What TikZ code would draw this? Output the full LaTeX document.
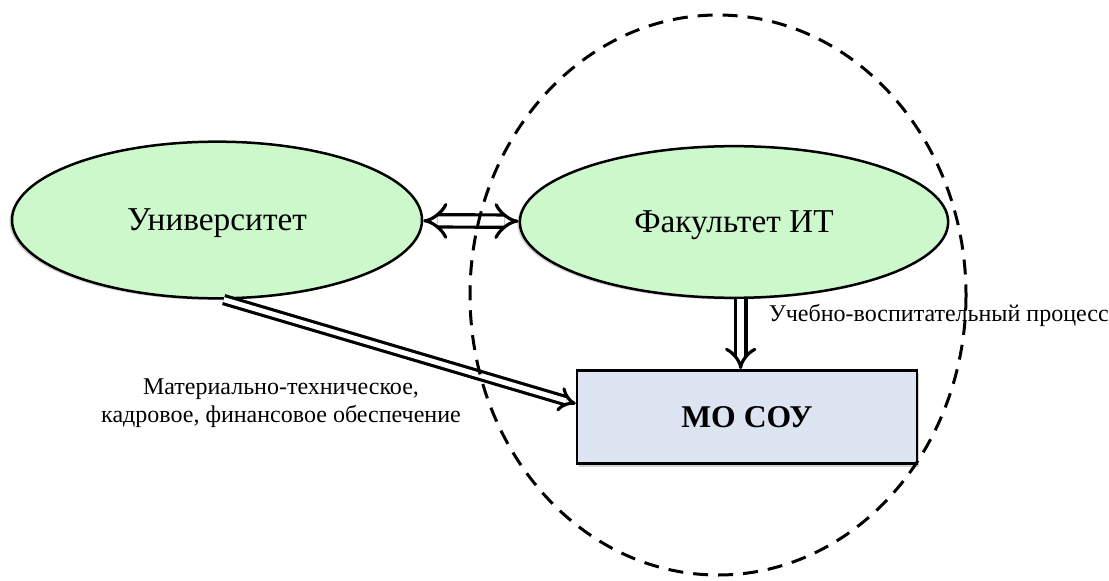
\documentclass[tikz,border=0pt]{standalone}
\usepackage{fontspec}
\setmainfont{Liberation Serif}
\usetikzlibrary{shapes.geometric,arrows.meta,shadows}
\definecolor{ovalgreen}{RGB}{204,248,204}
\definecolor{boxblue}{RGB}{219,228,240}

\begin{document}
\begin{tikzpicture}[x=0.6pt,y=-0.6pt,
  oval/.style={draw, ellipse, line width=1.5pt, fill=ovalgreen, font=\fontsize{20}{23}\selectfont,
    drop shadow={shadow xshift=-1.5pt, shadow yshift=-1pt, opacity=0.35}},
  dbl/.style={double, double distance=#1, line width=1.9pt},
  lbl/.style={font=\fontsize{14.4}{16.5}\selectfont}]
\useasboundingbox (0,0) rectangle (1109,581);

\node[oval, minimum width=246pt, minimum height=94pt, text depth=-2pt] (uni) at (217,220) {Университет};
\node[oval, minimum width=257pt, minimum height=91pt, text depth=-2pt] (fac) at (734,222) {Факультет ИТ};
\node[draw, line width=1.5pt, fill=boxblue, minimum width=204pt, minimum height=56pt,
  drop shadow={shadow xshift=1pt, shadow yshift=-2pt, opacity=0.35},
  font=\bfseries\fontsize{19}{22}\selectfont] (mo) at (747,417) {МО СОУ};

\draw[dbl=5.5pt, {Implies[scale=1.1]}-{Implies[scale=1.1]}] (uni) -- (fac);
\draw[dbl=4.5pt, -{Implies[scale=1.6]}] ([xshift=4pt]fac.south) -- ([xshift=4pt]fac.south |- mo.north);
\draw[dbl=3pt, -{Implies[scale=1.2]}] ([xshift=4pt]uni.south) -- ([yshift=8pt]mo.west);

\node[lbl, anchor=west] (proc) at (763,315) {Учебно-воспитательный процесс};
\node[lbl, align=center] (mat) at (281,403) {Материально-техническое,\\кадровое, финансовое обеспечение};

\draw[line width=1.8pt, dash pattern=on 9pt off 6pt] (718,295) ellipse [x radius=248, y radius=280];
\end{tikzpicture}
\end{document}
